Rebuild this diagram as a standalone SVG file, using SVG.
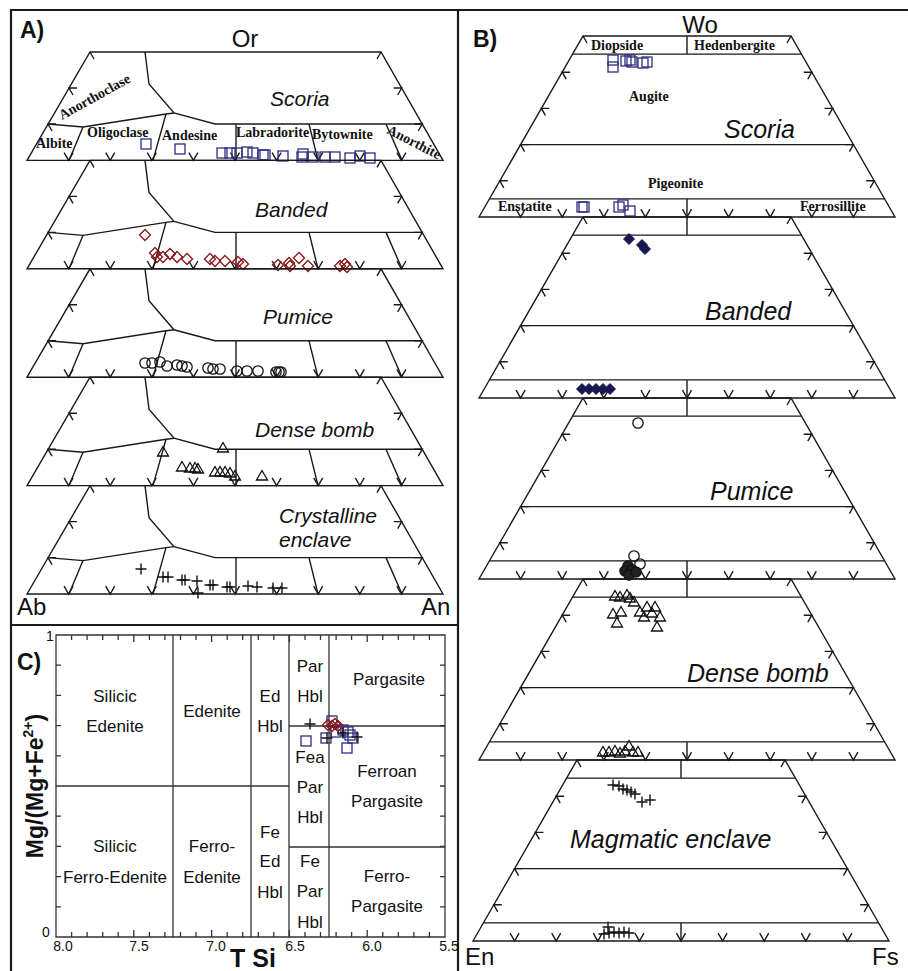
<svg xmlns="http://www.w3.org/2000/svg" xmlns:xlink="http://www.w3.org/1999/xlink" width="908" height="971" viewBox="0 0 908 971">
<style>
.ln{fill:none;stroke:#1a1a1a;stroke-width:1.4}
.fr{fill:none;stroke:#1a1a1a;stroke-width:2.2}
.ax{fill:none;stroke:#333;stroke-width:1.3}
.sans{font-family:"Liberation Sans",Arial,sans-serif;fill:#111}
.it{font-family:"Liberation Sans",Arial,sans-serif;font-style:italic;fill:#111}
.ser{font-family:"Liberation Serif","Times New Roman",serif;font-weight:bold;fill:#111;font-size:14px}
.big{font-size:24px}
.lab{font-size:23px;font-weight:bold}
.rg{font-size:17px;text-anchor:middle}
.tk{font-size:14px;text-anchor:middle}
</style>
<defs>
<rect id="sq" x="-5" y="-5" width="10" height="10" fill="none" stroke="#2b2d80" stroke-width="1.3"/>
<path id="dm" d="M0,-5.5L5.5,0L0,5.5L-5.5,0Z" fill="none" stroke="#8b1414" stroke-width="1.3"/>
<path id="dmf" d="M0,-5.5L5.5,0L0,5.5L-5.5,0Z" fill="#16184f" stroke="#16184f" stroke-width="1"/>
<circle id="ci" r="5.2" fill="none" stroke="#111" stroke-width="1.3"/>
<circle id="cif" r="5.2" fill="#222" stroke="#111" stroke-width="1.2"/>
<path id="tr" d="M0,-5.5L5.5,4L-5.5,4Z" fill="none" stroke="#111" stroke-width="1.3"/>
<path id="cr" d="M-5.5,0H5.5M0,-5.5V5.5" fill="none" stroke="#111" stroke-width="1.4"/>
<g id="trapA" class="ln">
<path d="M27,108.4L90,0H381L443,108.4Z"/>
<path d="M145,0L149,32L174,61L215,72H422.3"/>
<path d="M48,72L83,75L166,62L174,61"/>
<path d="M83,75L69,108.4M166,62L153,108.4M236,72V108.4M309,72L318,108.4M386,72L402,108.4"/>
<path d="M90,0l4,7M77,36H69l4,7M56,72H48l4,7M381,0l-4,7M393.7,36H401.7l-4,7M414.3,72H422.3l-4,7"/>
<path d="M64.1,100.6L68.6,108.4L73.1,100.6M105.7,100.6L110.2,108.4L114.7,100.6M147.3,100.6L151.8,108.4L156.3,100.6M188.9,100.6L193.4,108.4L197.9,100.6M230.5,100.6L235,108.4L239.5,100.6M272.1,100.6L276.6,108.4L281.1,100.6M313.7,100.6L318.2,108.4L322.7,100.6M355.3,100.6L359.8,108.4L364.3,100.6M396.9,100.6L401.4,108.4L405.9,100.6"/>
</g>
<g id="trapB" class="ln">
<path d="M479,181L583,0H791L895,181Z"/>
<path d="M572.6,18.1H801.4M520.6,108.6H853.4M489.4,162.9H884.6M687,0V18.1M687,162.9V181"/>
<path d="M583,0l4,7M570.2,36.2H562.2l4,7M549.4,72.4H541.4l4,7M528.6,108.6H520.6l4,7M507.8,144.8H499.8l4,7"/>
<path d="M791,0l-4,7M803.8,36.2H811.8l-4,7M824.6,72.4H832.6l-4,7M845.4,108.6H853.4l-4,7M866.2,144.8H874.2l-4,7"/>
<path d="M516.1,173.2L520.6,181L525.1,173.2M557.7,173.2L562.2,181L566.7,173.2M599.3,173.2L603.8,181L608.3,173.2M640.9,173.2L645.4,181L649.9,173.2M682.5,173.2L687,181L691.5,173.2M724.1,173.2L728.6,181L733.1,173.2M765.7,173.2L770.2,181L774.7,173.2M807.3,173.2L811.8,181L816.3,173.2M848.9,173.2L853.4,181L857.9,173.2"/>
</g>
</defs>

<g id="frame">
<path class="fr" d="M11,971V10H908M458,10V971M11,625H458"/>
</g>

<g id="panelA">
<text class="sans lab" x="20" y="38">A)</text>
<text class="sans big" x="245" y="47" text-anchor="middle">Or</text>
<text class="sans big" x="17" y="615">Ab</text>
<text class="sans big" x="421" y="615">An</text>
<g id="A-scoria">
<use href="#trapA" transform="translate(0,52)"/>
<text class="it" font-size="21" x="270" y="106">Scoria</text>
<text class="ser" transform="translate(62,120) rotate(-29)">Anorthoclase</text>
<text class="ser" x="36" y="148">Albite</text>
<text class="ser" x="87" y="137">Oligoclase</text>
<text class="ser" x="162" y="140">Andesine</text>
<text class="ser" x="236" y="137">Labradorite</text>
<text class="ser" x="312" y="139">Bytownite</text>
<text class="ser" transform="translate(386,133) rotate(27)">Anorthite</text>
<use href="#sq" x="146" y="144"/><use href="#sq" x="180" y="149"/><use href="#sq" x="222" y="153"/><use href="#sq" x="230" y="153"/><use href="#sq" x="237" y="153"/><use href="#sq" x="247" y="152"/><use href="#sq" x="253" y="153"/><use href="#sq" x="263" y="155"/><use href="#sq" x="265" y="155"/><use href="#sq" x="283" y="156"/><use href="#sq" x="302" y="157"/><use href="#sq" x="303" y="154"/><use href="#sq" x="313" y="157"/><use href="#sq" x="325" y="157"/><use href="#sq" x="335" y="157"/><use href="#sq" x="350" y="158"/><use href="#sq" x="360" y="156"/><use href="#sq" x="370" y="158"/>
</g>
<g id="A-banded">
<use href="#trapA" transform="translate(0,160.4)"/>
<text class="it" font-size="21" x="255" y="217">Banded</text>
<use href="#dm" x="145" y="235"/><use href="#dm" x="155" y="253"/><use href="#dm" x="157" y="257"/><use href="#dm" x="163" y="257"/><use href="#dm" x="170" y="254"/><use href="#dm" x="177" y="257"/><use href="#dm" x="187" y="259"/><use href="#dm" x="210" y="259"/><use href="#dm" x="215" y="261"/><use href="#dm" x="225" y="261"/><use href="#dm" x="238" y="262"/><use href="#dm" x="243" y="264"/><use href="#dm" x="278" y="265"/><use href="#dm" x="290" y="266"/><use href="#dm" x="289" y="263"/><use href="#dm" x="299" y="258"/><use href="#dm" x="308" y="266"/><use href="#dm" x="340" y="266"/><use href="#dm" x="345" y="264"/><use href="#dm" x="347" y="267"/>
</g>
<g id="A-pumice">
<use href="#trapA" transform="translate(0,268.8)"/>
<text class="it" font-size="21" x="263" y="324">Pumice</text>
<use href="#ci" x="145" y="363"/><use href="#ci" x="152" y="363"/><use href="#ci" x="160" y="362"/><use href="#ci" x="167" y="366"/><use href="#ci" x="177" y="365"/><use href="#ci" x="182" y="366"/><use href="#ci" x="187" y="367"/><use href="#ci" x="208" y="368"/><use href="#ci" x="213" y="369"/><use href="#ci" x="220" y="369"/><use href="#ci" x="237" y="371"/><use href="#ci" x="247" y="371"/><use href="#ci" x="258" y="371"/><use href="#ci" x="276" y="372"/><use href="#ci" x="279" y="372"/><use href="#ci" x="281" y="372"/>
</g>
<g id="A-dense">
<use href="#trapA" transform="translate(0,377.2)"/>
<text class="it" font-size="21" x="255" y="437">Dense bomb</text>
<use href="#tr" x="163" y="452"/><use href="#tr" x="223" y="448"/><use href="#tr" x="182" y="467"/><use href="#tr" x="190" y="468"/><use href="#tr" x="195" y="468"/><use href="#tr" x="198" y="469"/><use href="#tr" x="215" y="472"/><use href="#tr" x="220" y="472"/><use href="#tr" x="225" y="472"/><use href="#tr" x="230" y="473"/><use href="#tr" x="235" y="476"/><use href="#tr" x="262" y="476"/>
</g>
<g id="A-crystalline">
<use href="#trapA" transform="translate(0,485.6)"/>
<text class="it" font-size="21" x="279" y="523">Crystalline</text>
<text class="it" font-size="21" x="279" y="547">enclave</text>
<use href="#cr" x="141" y="569"/><use href="#cr" x="163" y="577"/><use href="#cr" x="168" y="577"/><use href="#cr" x="182" y="580"/><use href="#cr" x="185" y="580"/><use href="#cr" x="197" y="581"/><use href="#cr" x="198" y="593"/><use href="#cr" x="210" y="585"/><use href="#cr" x="213" y="585"/><use href="#cr" x="227" y="587"/><use href="#cr" x="230" y="587"/><use href="#cr" x="248" y="586"/><use href="#cr" x="257" y="587"/><use href="#cr" x="273" y="588"/><use href="#cr" x="282" y="588"/>
</g>
</g>

<g id="panelB">
<text class="sans lab" x="473" y="47">B)</text>
<text class="sans big" x="700" y="33" text-anchor="middle">Wo</text>
<text class="sans big" x="465" y="965">En</text>
<text class="sans big" x="872" y="965">Fs</text>
<g id="B-scoria">
<use href="#trapB" transform="translate(0,36)"/>
<text class="ser" x="591" y="50">Diopside</text>
<text class="ser" x="694" y="50">Hedenbergite</text>
<text class="ser" x="629" y="101">Augite</text>
<text class="ser" x="648" y="188">Pigeonite</text>
<text class="ser" x="498" y="211">Enstatite</text>
<text class="ser" x="800" y="211">Ferrosillite</text>
<text class="it" font-size="25" x="724" y="138">Scoria</text>
<use href="#sq" x="613" y="60"/><use href="#sq" x="613" y="67"/><use href="#sq" x="626" y="61"/><use href="#sq" x="632" y="62"/><use href="#sq" x="630" y="60"/><use href="#sq" x="643" y="63"/><use href="#sq" x="647" y="62"/>
<use href="#sq" x="582" y="207"/><use href="#sq" x="584" y="207"/><use href="#sq" x="619" y="207"/><use href="#sq" x="623" y="205"/><use href="#sq" x="630" y="211"/>
</g>
<g id="B-banded">
<use href="#trapB" transform="translate(0,217)"/>
<text class="it" font-size="25" x="705" y="320">Banded</text>
<use href="#dmf" x="629" y="239"/><use href="#dmf" x="642" y="245"/><use href="#dmf" x="645" y="249"/>
<use href="#dmf" x="582" y="389"/><use href="#dmf" x="589" y="389"/><use href="#dmf" x="596" y="389"/><use href="#dmf" x="603" y="389"/><use href="#dmf" x="610" y="389"/>
</g>
<g id="B-pumice">
<use href="#trapB" transform="translate(0,398)"/>
<text class="it" font-size="25" x="710" y="500">Pumice</text>
<use href="#ci" x="638" y="423"/>
<use href="#ci" x="634" y="556"/><use href="#ci" x="640" y="564"/><use href="#cif" x="628" y="566"/><use href="#cif" x="625" y="571"/><use href="#cif" x="632" y="570"/><use href="#cif" x="629" y="575"/><use href="#cif" x="636" y="572"/>
</g>
<g id="B-dense">
<use href="#trapB" transform="translate(0,579)"/>
<text class="it" font-size="25" x="687" y="682">Dense bomb</text>
<use href="#tr" x="615" y="596"/><use href="#tr" x="620" y="597"/><use href="#tr" x="627" y="595"/><use href="#tr" x="630" y="598"/><use href="#tr" x="634" y="602"/><use href="#tr" x="613" y="614"/><use href="#tr" x="621" y="612"/><use href="#tr" x="617" y="623"/><use href="#tr" x="640" y="612"/><use href="#tr" x="644" y="617"/><use href="#tr" x="647" y="607"/><use href="#tr" x="652" y="613"/><use href="#tr" x="655" y="607"/><use href="#tr" x="660" y="617"/><use href="#tr" x="657" y="627"/>
<use href="#tr" x="603" y="752"/><use href="#tr" x="609" y="752"/><use href="#tr" x="615" y="751"/><use href="#tr" x="620" y="753"/><use href="#tr" x="625" y="751"/><use href="#tr" x="629" y="746"/><use href="#tr" x="633" y="752"/><use href="#tr" x="638" y="752"/>
</g>
<g id="B-magmatic">
<use href="#trapB" transform="translate(-6,760)"/>
<text class="it" font-size="25" x="570" y="848">Magmatic enclave</text>
<use href="#cr" x="613" y="785"/><use href="#cr" x="619" y="786"/><use href="#cr" x="623" y="789"/><use href="#cr" x="627" y="790"/><use href="#cr" x="631" y="792"/><use href="#cr" x="635" y="794"/><use href="#cr" x="642" y="802"/><use href="#cr" x="650" y="800"/>
<use href="#cr" x="604" y="934"/><use href="#cr" x="609" y="933"/><use href="#cr" x="614" y="932"/><use href="#cr" x="619" y="933"/><use href="#cr" x="624" y="932"/><use href="#cr" x="629" y="933"/><use href="#cr" x="608" y="927"/>
</g>
</g>

<g id="panelC">
<text class="sans lab" x="17" y="670">C)</text>
<text class="sans" font-size="23" font-weight="bold" transform="translate(43,786) rotate(-90)" text-anchor="middle">Mg/(Mg+Fe<tspan font-size="14" dy="-10">2+</tspan><tspan dy="10">)</tspan></text>
<text class="sans" font-size="25" font-weight="bold" x="230" y="967">T Si</text>
<path class="ax" d="M56,635H445V937H56Z"/>
<path class="ax" d="M173,635V937M251,635V937M289,635V937M329,635V937M56,786H289M289,726H445M289,847H445"/>
<path class="ax" d="M71.6,635v5M87.1,635v5M102.7,635v5M118.2,635v5M133.8,635v7M149.4,635v5M164.9,635v5M180.5,635v5M196,635v5M211.6,635v7M227.2,635v5M242.7,635v5M258.3,635v5M273.8,635v5M289.4,635v7M305,635v5M320.5,635v5M336.1,635v5M351.6,635v5M367.2,635v7M382.8,635v5M398.3,635v5M413.9,635v5M429.4,635v5"/>
<path class="ax" d="M71.6,937v-5M87.1,937v-5M102.7,937v-5M118.2,937v-5M133.8,937v-7M149.4,937v-5M164.9,937v-5M180.5,937v-5M196,937v-5M211.6,937v-7M227.2,937v-5M242.7,937v-5M258.3,937v-5M273.8,937v-5M289.4,937v-7M305,937v-5M320.5,937v-5M336.1,937v-5M351.6,937v-5M367.2,937v-7M382.8,937v-5M398.3,937v-5M413.9,937v-5M429.4,937v-5"/>
<path class="ax" d="M56,665.2h5M56,695.4h5M56,725.6h5M56,755.8h5M56,816.2h5M56,846.4h5M56,876.6h5M56,906.8h5M445,665.2h-5M445,695.4h-5M445,725.6h-5M445,755.8h-5M445,786h-5M445,816.2h-5M445,846.4h-5M445,876.6h-5M445,906.8h-5"/>
<text class="sans" font-size="14" x="46" y="641">1</text>
<text class="sans" font-size="14" x="42" y="937">0</text>
<text class="sans tk" x="63" y="951">8.0</text>
<text class="sans tk" x="139" y="951">7.5</text>
<text class="sans tk" x="216" y="951">7.0</text>
<text class="sans tk" x="295" y="951">6.5</text>
<text class="sans tk" x="372" y="951">6.0</text>
<text class="sans tk" x="449" y="951">5.5</text>
<text class="sans rg" x="115" y="702">Silicic</text>
<text class="sans rg" x="115" y="732">Edenite</text>
<text class="sans rg" x="212" y="717">Edenite</text>
<text class="sans rg" x="115" y="852">Silicic</text>
<text class="sans rg" x="115" y="883">Ferro-Edenite</text>
<text class="sans rg" x="212" y="852">Ferro-</text>
<text class="sans rg" x="212" y="883">Edenite</text>
<text class="sans rg" x="270" y="702">Ed</text>
<text class="sans rg" x="270" y="732">Hbl</text>
<text class="sans rg" x="270" y="838">Fe</text>
<text class="sans rg" x="270" y="867">Ed</text>
<text class="sans rg" x="270" y="898">Hbl</text>
<text class="sans rg" x="310" y="672">Par</text>
<text class="sans rg" x="310" y="702">Hbl</text>
<text class="sans rg" x="389" y="685">Pargasite</text>
<text class="sans rg" x="310" y="763">Fea</text>
<text class="sans rg" x="310" y="793">Par</text>
<text class="sans rg" x="310" y="823">Hbl</text>
<text class="sans rg" x="387" y="777">Ferroan</text>
<text class="sans rg" x="387" y="807">Pargasite</text>
<text class="sans rg" x="310" y="867">Fe</text>
<text class="sans rg" x="310" y="897">Par</text>
<text class="sans rg" x="310" y="928">Hbl</text>
<text class="sans rg" x="387" y="882">Ferro-</text>
<text class="sans rg" x="387" y="912">Pargasite</text>
<use href="#sq" x="306" y="741"/><use href="#sq" x="326" y="738"/><use href="#sq" x="332" y="721"/><use href="#sq" x="336" y="732"/><use href="#sq" x="343" y="730"/><use href="#sq" x="348" y="732"/><use href="#sq" x="350" y="735"/><use href="#sq" x="353" y="738"/><use href="#sq" x="347" y="748"/>
<use href="#cr" x="310" y="724"/><use href="#cr" x="327" y="738"/><use href="#cr" x="343" y="733"/><use href="#cr" x="357" y="737"/>
<use href="#dm" x="328" y="725"/><use href="#dm" x="332" y="726"/><use href="#dm" x="335" y="724"/><use href="#dm" x="338" y="726"/>
</g>
</svg>
